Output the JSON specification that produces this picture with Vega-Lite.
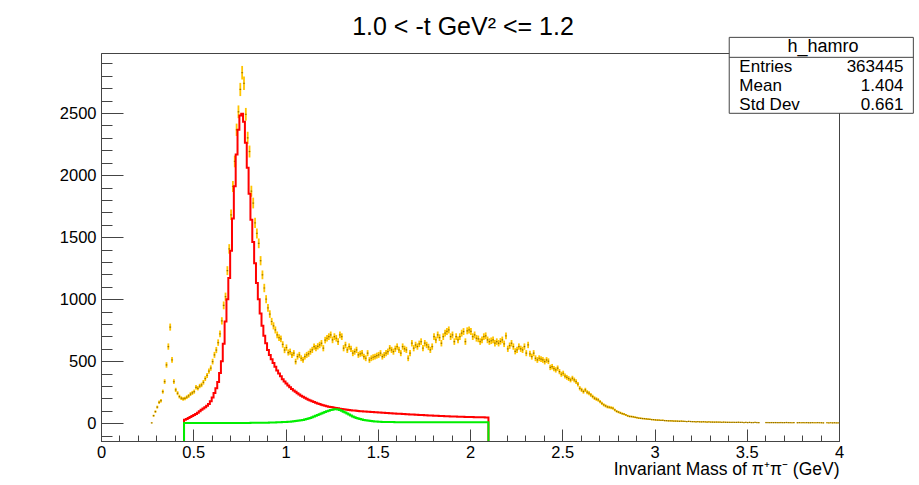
{
  "$schema": "https://vega.github.io/schema/vega-lite/v6.json",
  "width": 738,
  "height": 388,
  "autosize": {"type": "none"},
  "padding": {"left": 101, "top": 53, "right": 80, "bottom": 44},
  "background": "white",
  "title": {"text": "1.0 < -t GeV² <= 1.2", "font": "Liberation Sans", "fontSize": 25, "fontWeight": "normal", "color": "#000", "anchor": "middle", "frame": "group", "offset": -3, "dx": -7},
  "config": {
    "view": {"stroke": "#444", "strokeWidth": 1},
    "axis": {"grid": false, "labelFont": "Liberation Sans", "labelFontSize": 16.5, "labelColor": "#000", "domainColor": "#444", "tickColor": "#444", "titleFont": "Liberation Sans", "titleFontSize": 17.5, "titleFontWeight": "normal", "titleColor": "#000", "labelFlush": false, "labelOverlap": false}
  },
  "resolve": {"axis": {"x": "independent", "y": "independent"}},
  "datasets": {
    "yel": [
      {"x":0.275,"y":3},{"x":0.285,"y":61},{"x":0.295,"y":94},{"x":0.305,"y":130},{"x":0.315,"y":169},{"x":0.325,"y":182},{"x":0.335,"y":255},{"x":0.345,"y":336},{"x":0.355,"y":470},{"x":0.365,"y":618},
      {"x":0.375,"y":775},{"x":0.385,"y":510},{"x":0.395,"y":336},{"x":0.405,"y":269},{"x":0.415,"y":242},{"x":0.425,"y":215},{"x":0.435,"y":202},{"x":0.445,"y":196},{"x":0.455,"y":200},{"x":0.465,"y":210},
      {"x":0.475,"y":220},{"x":0.485,"y":235},{"x":0.495,"y":245},{"x":0.505,"y":255},{"x":0.515,"y":290},{"x":0.525,"y":282},{"x":0.535,"y":300},{"x":0.545,"y":309},{"x":0.555,"y":330},{"x":0.565,"y":360},
      {"x":0.575,"y":385},{"x":0.585,"y":420},{"x":0.595,"y":445},{"x":0.605,"y":497},{"x":0.615,"y":551},{"x":0.625,"y":590},{"x":0.635,"y":650},{"x":0.645,"y":720},{"x":0.655,"y":825},{"x":0.665,"y":950},
      {"x":0.675,"y":1020},{"x":0.685,"y":1230},{"x":0.695,"y":1405},{"x":0.705,"y":1680},{"x":0.715,"y":1908},{"x":0.725,"y":2110},{"x":0.735,"y":2365},{"x":0.745,"y":2510},{"x":0.755,"y":2690},{"x":0.765,"y":2825},
      {"x":0.775,"y":2740},{"x":0.785,"y":2490},{"x":0.795,"y":2300},{"x":0.805,"y":2190},{"x":0.815,"y":1870},{"x":0.825,"y":1775},{"x":0.835,"y":1615},{"x":0.845,"y":1530},{"x":0.855,"y":1450},{"x":0.865,"y":1310},
      {"x":0.875,"y":1196},{"x":0.885,"y":1090},{"x":0.895,"y":1000},{"x":0.905,"y":930},{"x":0.915,"y":880},{"x":0.925,"y":820},{"x":0.935,"y":785},{"x":0.945,"y":752},{"x":0.955,"y":712},{"x":0.965,"y":690},
      {"x":0.975,"y":680},{"x":0.985,"y":635},{"x":0.995,"y":590},{"x":1.005,"y":610},{"x":1.015,"y":570},{"x":1.025,"y":577},{"x":1.035,"y":551},{"x":1.045,"y":565},{"x":1.055,"y":497},{"x":1.065,"y":537},
      {"x":1.075,"y":551},{"x":1.085,"y":524},{"x":1.095,"y":510},{"x":1.105,"y":537},{"x":1.115,"y":551},{"x":1.125,"y":560},{"x":1.135,"y":577},{"x":1.145,"y":591},{"x":1.155,"y":618},{"x":1.165,"y":605},
      {"x":1.175,"y":620},{"x":1.185,"y":631},{"x":1.195,"y":645},{"x":1.205,"y":605},{"x":1.215,"y":670},{"x":1.225,"y":685},{"x":1.235,"y":698},{"x":1.245,"y":712},{"x":1.255,"y":672},{"x":1.265,"y":698},
      {"x":1.275,"y":685},{"x":1.285,"y":658},{"x":1.295,"y":712},{"x":1.305,"y":698},{"x":1.315,"y":605},{"x":1.325,"y":631},{"x":1.335,"y":591},{"x":1.345,"y":618},{"x":1.355,"y":600},{"x":1.365,"y":565},
      {"x":1.375,"y":577},{"x":1.385,"y":591},{"x":1.395,"y":551},{"x":1.405,"y":560},{"x":1.415,"y":565},{"x":1.425,"y":537},{"x":1.435,"y":524},{"x":1.445,"y":565},{"x":1.455,"y":510},{"x":1.465,"y":524},
      {"x":1.475,"y":532},{"x":1.485,"y":537},{"x":1.495,"y":545},{"x":1.505,"y":551},{"x":1.515,"y":565},{"x":1.525,"y":537},{"x":1.535,"y":550},{"x":1.545,"y":565},{"x":1.555,"y":577},{"x":1.565,"y":605},
      {"x":1.575,"y":591},{"x":1.585,"y":577},{"x":1.595,"y":600},{"x":1.605,"y":618},{"x":1.615,"y":591},{"x":1.625,"y":565},{"x":1.635,"y":618},{"x":1.645,"y":600},{"x":1.655,"y":591},{"x":1.665,"y":524},
      {"x":1.675,"y":565},{"x":1.685,"y":645},{"x":1.695,"y":605},{"x":1.705,"y":631},{"x":1.715,"y":618},{"x":1.725,"y":640},{"x":1.735,"y":658},{"x":1.745,"y":605},{"x":1.755,"y":645},{"x":1.765,"y":631},
      {"x":1.775,"y":615},{"x":1.785,"y":591},{"x":1.795,"y":618},{"x":1.805,"y":698},{"x":1.815,"y":672},{"x":1.825,"y":712},{"x":1.835,"y":690},{"x":1.845,"y":645},{"x":1.855,"y":698},{"x":1.865,"y":726},
      {"x":1.875,"y":740},{"x":1.885,"y":752},{"x":1.895,"y":698},{"x":1.905,"y":712},{"x":1.915,"y":658},{"x":1.925,"y":698},{"x":1.935,"y":672},{"x":1.945,"y":698},{"x":1.955,"y":726},{"x":1.965,"y":739},
      {"x":1.975,"y":658},{"x":1.985,"y":745},{"x":1.995,"y":752},{"x":2.005,"y":740},{"x":2.015,"y":698},{"x":2.025,"y":712},{"x":2.035,"y":685},{"x":2.045,"y":680},{"x":2.055,"y":658},{"x":2.065,"y":672},
      {"x":2.075,"y":698},{"x":2.085,"y":705},{"x":2.095,"y":672},{"x":2.105,"y":658},{"x":2.115,"y":665},{"x":2.125,"y":672},{"x":2.135,"y":645},{"x":2.145,"y":658},{"x":2.155,"y":645},{"x":2.165,"y":660},
      {"x":2.175,"y":672},{"x":2.185,"y":640},{"x":2.195,"y":705},{"x":2.205,"y":600},{"x":2.215,"y":625},{"x":2.225,"y":645},{"x":2.235,"y":618},{"x":2.245,"y":580},{"x":2.255,"y":591},{"x":2.265,"y":618},
      {"x":2.275,"y":600},{"x":2.285,"y":591},{"x":2.295,"y":618},{"x":2.305,"y":565},{"x":2.315,"y":631},{"x":2.325,"y":560},{"x":2.335,"y":537},{"x":2.345,"y":565},{"x":2.355,"y":524},{"x":2.365,"y":510},
      {"x":2.375,"y":524},{"x":2.385,"y":517},{"x":2.395,"y":510},{"x":2.405,"y":497},{"x":2.415,"y":510},{"x":2.425,"y":500},{"x":2.435,"y":450},{"x":2.445,"y":456},{"x":2.455,"y":440},{"x":2.465,"y":430},
      {"x":2.475,"y":444},{"x":2.485,"y":416},{"x":2.495,"y":395},{"x":2.505,"y":403},{"x":2.515,"y":380},{"x":2.525,"y":370},{"x":2.535,"y":360},{"x":2.545,"y":349},{"x":2.555,"y":363},{"x":2.565,"y":349},
      {"x":2.575,"y":335},{"x":2.585,"y":315},{"x":2.595,"y":282},{"x":2.605,"y":269},{"x":2.615,"y":255},{"x":2.625,"y":269},{"x":2.635,"y":250},{"x":2.645,"y":242},{"x":2.655,"y":228},{"x":2.665,"y":215},
      {"x":2.675,"y":202},{"x":2.685,"y":195},{"x":2.695,"y":188},{"x":2.705,"y":174},{"x":2.715,"y":161},{"x":2.725,"y":148},{"x":2.735,"y":140},{"x":2.745,"y":132},{"x":2.755,"y":129},{"x":2.765,"y":125},
      {"x":2.775,"y":121},{"x":2.785,"y":107},{"x":2.795,"y":96},{"x":2.805,"y":90},{"x":2.815,"y":84},{"x":2.825,"y":78},{"x":2.835,"y":73},{"x":2.845,"y":67},{"x":2.855,"y":60},{"x":2.865,"y":55},
      {"x":2.875,"y":54},{"x":2.885,"y":52},{"x":2.895,"y":48},{"x":2.905,"y":45},{"x":2.915,"y":41},{"x":2.925,"y":40},{"x":2.935,"y":38},{"x":2.945,"y":37},{"x":2.955,"y":35},{"x":2.965,"y":33},
      {"x":2.975,"y":32},{"x":2.985,"y":30},{"x":2.995,"y":29},{"x":3.005,"y":27},{"x":3.015,"y":26},{"x":3.025,"y":25},{"x":3.035,"y":23},{"x":3.045,"y":24},{"x":3.055,"y":22},{"x":3.065,"y":21},
      {"x":3.075,"y":20},{"x":3.085,"y":20},{"x":3.095,"y":19},{"x":3.105,"y":18},{"x":3.115,"y":18},{"x":3.125,"y":17},{"x":3.135,"y":16},{"x":3.145,"y":17},{"x":3.155,"y":16},{"x":3.165,"y":15},
      {"x":3.175,"y":14},{"x":3.185,"y":15},{"x":3.195,"y":14},{"x":3.205,"y":13},{"x":3.215,"y":13},{"x":3.225,"y":12},{"x":3.235,"y":13},{"x":3.245,"y":12},{"x":3.255,"y":11},{"x":3.265,"y":12},
      {"x":3.275,"y":11},{"x":3.285,"y":10},{"x":3.295,"y":11},{"x":3.305,"y":10},{"x":3.315,"y":10},{"x":3.325,"y":9},{"x":3.335,"y":10},{"x":3.345,"y":9},{"x":3.355,"y":9},{"x":3.365,"y":8},
      {"x":3.375,"y":9},{"x":3.385,"y":8},{"x":3.395,"y":8},{"x":3.405,"y":8},{"x":3.415,"y":7},{"x":3.425,"y":8},{"x":3.435,"y":7},{"x":3.445,"y":7},{"x":3.455,"y":8},{"x":3.465,"y":7},
      {"x":3.475,"y":7},{"x":3.485,"y":6},{"x":3.495,"y":7},{"x":3.505,"y":6},{"x":3.515,"y":7},{"x":3.525,"y":6},{"x":3.535,"y":6},{"x":3.545,"y":7},{"x":3.555,"y":6},{"x":3.565,"y":5},
      {"x":3.605,"y":6},{"x":3.615,"y":6},{"x":3.625,"y":5},{"x":3.635,"y":6},{"x":3.645,"y":5},{"x":3.655,"y":6},{"x":3.665,"y":5},{"x":3.675,"y":5},{"x":3.685,"y":6},{"x":3.695,"y":5},
      {"x":3.705,"y":5},{"x":3.715,"y":6},{"x":3.725,"y":5},{"x":3.735,"y":5},{"x":3.745,"y":4},{"x":3.755,"y":5},{"x":3.775,"y":4},{"x":3.785,"y":5},{"x":3.795,"y":4},{"x":3.805,"y":5},
      {"x":3.815,"y":4},{"x":3.825,"y":5},{"x":3.835,"y":4},{"x":3.845,"y":4},{"x":3.855,"y":5},{"x":3.865,"y":4},{"x":3.875,"y":4},{"x":3.885,"y":5},{"x":3.895,"y":4},{"x":3.905,"y":4},
      {"x":3.915,"y":3},{"x":3.935,"y":4},{"x":3.945,"y":3},{"x":3.955,"y":4},{"x":3.965,"y":3},{"x":3.975,"y":4},{"x":3.985,"y":3},{"x":3.995,"y":3}
    ],
    "red": [
      {"x":0.45,"y":-143},
      {"x":0.45,"y":28},{"x":0.46,"y":35},{"x":0.47,"y":42},{"x":0.48,"y":50},{"x":0.49,"y":58},{"x":0.50,"y":66},{"x":0.51,"y":75},{"x":0.52,"y":85},{"x":0.53,"y":96},{"x":0.54,"y":108},
      {"x":0.55,"y":119},{"x":0.56,"y":130},{"x":0.57,"y":142},{"x":0.58,"y":155},{"x":0.59,"y":178},{"x":0.60,"y":208},{"x":0.61,"y":243},{"x":0.62,"y":283},{"x":0.63,"y":333},{"x":0.64,"y":405},
      {"x":0.65,"y":500},{"x":0.66,"y":640},{"x":0.67,"y":820},{"x":0.68,"y":1000},{"x":0.69,"y":1170},{"x":0.70,"y":1390},{"x":0.71,"y":1650},{"x":0.72,"y":1910},{"x":0.73,"y":2165},{"x":0.74,"y":2365},
      {"x":0.75,"y":2480},{"x":0.76,"y":2494},{"x":0.77,"y":2430},{"x":0.78,"y":2260},{"x":0.79,"y":2060},{"x":0.80,"y":1850},{"x":0.81,"y":1640},{"x":0.82,"y":1460},{"x":0.83,"y":1290},{"x":0.84,"y":1130},
      {"x":0.85,"y":1000},{"x":0.86,"y":885},{"x":0.87,"y":785},{"x":0.88,"y":705},{"x":0.89,"y":645},{"x":0.90,"y":591},{"x":0.91,"y":550},{"x":0.92,"y":515},{"x":0.93,"y":485},{"x":0.94,"y":455},
      {"x":0.95,"y":425},{"x":0.96,"y":400},{"x":0.97,"y":378},{"x":0.98,"y":355},{"x":0.99,"y":336},{"x":1.00,"y":320},{"x":1.01,"y":305},{"x":1.02,"y":290},{"x":1.03,"y":277},{"x":1.04,"y":265},
      {"x":1.05,"y":253},{"x":1.06,"y":242},{"x":1.07,"y":232},{"x":1.08,"y":222},{"x":1.09,"y":213},{"x":1.10,"y":205},{"x":1.11,"y":197},{"x":1.12,"y":190},{"x":1.13,"y":183},{"x":1.14,"y":177},
      {"x":1.15,"y":171},{"x":1.16,"y":165},{"x":1.17,"y":160},{"x":1.18,"y":155},{"x":1.19,"y":150},{"x":1.20,"y":146},{"x":1.21,"y":142},{"x":1.22,"y":138},{"x":1.23,"y":134},{"x":1.24,"y":131},
      {"x":1.25,"y":128},{"x":1.26,"y":125},{"x":1.27,"y":122},{"x":1.28,"y":120},{"x":1.29,"y":117},{"x":1.30,"y":115},{"x":1.31,"y":113},{"x":1.32,"y":111},{"x":1.33,"y":109},{"x":1.34,"y":107},
      {"x":1.35,"y":105},{"x":1.36,"y":103},{"x":1.37,"y":102},{"x":1.38,"y":100},{"x":1.39,"y":99},{"x":1.40,"y":97},{"x":1.41,"y":96},{"x":1.42,"y":95},{"x":1.43,"y":94},{"x":1.44,"y":93},
      {"x":1.45,"y":92},{"x":1.46,"y":91},{"x":1.47,"y":90},{"x":1.48,"y":89},{"x":1.49,"y":88},{"x":1.50,"y":87},{"x":1.51,"y":86},{"x":1.52,"y":85},{"x":1.53,"y":84},{"x":1.54,"y":83},
      {"x":1.55,"y":82},{"x":1.56,"y":81},{"x":1.57,"y":80},{"x":1.58,"y":79},{"x":1.59,"y":78},{"x":1.60,"y":77},{"x":1.61,"y":76},{"x":1.62,"y":76},{"x":1.63,"y":75},{"x":1.64,"y":74},
      {"x":1.65,"y":73},{"x":1.66,"y":72},{"x":1.67,"y":71},{"x":1.68,"y":70},{"x":1.69,"y":70},{"x":1.70,"y":69},{"x":1.71,"y":68},{"x":1.72,"y":67},{"x":1.73,"y":66},{"x":1.74,"y":66},
      {"x":1.75,"y":65},{"x":1.76,"y":64},{"x":1.77,"y":63},{"x":1.78,"y":63},{"x":1.79,"y":62},{"x":1.80,"y":61},{"x":1.81,"y":60},{"x":1.82,"y":60},{"x":1.83,"y":59},{"x":1.84,"y":58},
      {"x":1.85,"y":58},{"x":1.86,"y":57},{"x":1.87,"y":57},{"x":1.88,"y":56},{"x":1.89,"y":55},{"x":1.90,"y":55},{"x":1.91,"y":54},{"x":1.92,"y":54},{"x":1.93,"y":53},{"x":1.94,"y":53},
      {"x":1.95,"y":52},{"x":1.96,"y":52},{"x":1.97,"y":51},{"x":1.98,"y":51},{"x":1.99,"y":51},{"x":2.00,"y":50},{"x":2.01,"y":50},{"x":2.02,"y":49},{"x":2.03,"y":49},{"x":2.04,"y":49},
      {"x":2.05,"y":48},{"x":2.06,"y":48},{"x":2.07,"y":48},{"x":2.08,"y":47},{"x":2.09,"y":47},{"x":2.10,"y":47},
      {"x":2.10,"y":-143}
    ],
    "grn": [
      {"x":0.45,"y":-143},
      {"x":0.45,"y":2},{"x":0.55,"y":2},{"x":0.65,"y":3},{"x":0.81,"y":4},{"x":0.89,"y":5},{"x":0.91,"y":6},{"x":0.93,"y":7},{"x":0.95,"y":8},{"x":0.97,"y":9},{"x":0.98,"y":10},
      {"x":1.00,"y":11},{"x":1.01,"y":12},{"x":1.02,"y":13},{"x":1.03,"y":15},{"x":1.04,"y":16},{"x":1.05,"y":18},{"x":1.06,"y":20},{"x":1.07,"y":22},{"x":1.08,"y":24},{"x":1.09,"y":27},
      {"x":1.10,"y":30},{"x":1.11,"y":34},{"x":1.12,"y":38},{"x":1.13,"y":43},{"x":1.14,"y":48},{"x":1.15,"y":54},{"x":1.16,"y":60},{"x":1.17,"y":66},{"x":1.18,"y":72},{"x":1.19,"y":78},
      {"x":1.20,"y":84},{"x":1.21,"y":90},{"x":1.22,"y":96},{"x":1.23,"y":101},{"x":1.24,"y":106},{"x":1.25,"y":109},{"x":1.26,"y":112},{"x":1.27,"y":113},{"x":1.28,"y":111},{"x":1.29,"y":106},
      {"x":1.30,"y":100},{"x":1.31,"y":93},{"x":1.32,"y":86},{"x":1.33,"y":78},{"x":1.34,"y":70},{"x":1.35,"y":62},{"x":1.36,"y":55},{"x":1.37,"y":49},{"x":1.38,"y":43},{"x":1.39,"y":38},
      {"x":1.40,"y":34},{"x":1.41,"y":30},{"x":1.42,"y":27},{"x":1.43,"y":24},{"x":1.44,"y":22},{"x":1.45,"y":20},{"x":1.46,"y":18},{"x":1.47,"y":16},{"x":1.48,"y":15},{"x":1.49,"y":14},
      {"x":1.50,"y":13},{"x":1.51,"y":12},{"x":1.52,"y":11},{"x":1.54,"y":10},{"x":1.59,"y":9},{"x":1.70,"y":8},{"x":2.10,"y":8},
      {"x":2.10,"y":-143}
    ],
    "one": [{}]
  },
  "layer": [
    {
      "data": {"name": "yel"},
      "mark": {"type": "tick", "orient": "vertical", "thickness": 1.8, "color": "#ffc400", "opacity": 1},
      "encoding": {
        "x": {"field": "x", "type": "quantitative", "scale": {"domain": [0, 4], "nice": false, "zero": false},
              "axis": {"orient": "bottom", "values": [0, 0.5, 1, 1.5, 2, 2.5, 3, 3.5, 4], "format": "~g", "tickSize": -12, "labelPadding": 15, "title": "Invariant Mass of π⁺π⁻ (GeV)", "titleAnchor": "end", "titlePadding": 0}},
        "y": {"field": "y", "type": "quantitative", "scale": {"domain": [-143, 2984], "nice": false, "zero": false},
              "axis": {"orient": "left", "values": [0, 500, 1000, 1500, 2000, 2500], "format": "d", "tickSize": -22, "labelPadding": 27, "title": null}},
        "size": {"field": "y", "type": "quantitative", "scale": {"type": "sqrt", "domain": [0, 2800], "range": [0, 13.5]}, "legend": null}
      }
    },
    {
      "data": {"name": "yel"},
      "mark": {"type": "tick", "orient": "horizontal", "size": 2.2, "thickness": 1.2, "color": "#ffc400"},
      "encoding": {
        "x": {"field": "x", "type": "quantitative",
              "axis": {"orient": "bottom", "values": [0,0.1,0.2,0.3,0.4,0.5,0.6,0.7,0.8,0.9,1,1.1,1.2,1.3,1.4,1.5,1.6,1.7,1.8,1.9,2,2.1,2.2,2.3,2.4,2.5,2.6,2.7,2.8,2.9,3,3.1,3.2,3.3,3.4,3.5,3.6,3.7,3.8,3.9,4], "tickSize": -6, "labels": false, "domain": false, "title": null}},
        "y": {"field": "y", "type": "quantitative",
              "axis": {"orient": "left", "values": [-100,0,100,200,300,400,500,600,700,800,900,1000,1100,1200,1300,1400,1500,1600,1700,1800,1900,2000,2100,2200,2300,2400,2500,2600,2700,2800,2900], "tickSize": -11, "labels": false, "domain": false, "title": null}}
      }
    },
    {
      "data": {"name": "yel"},
      "mark": {"type": "square", "size": 1.5, "color": "#6e5400", "opacity": 0.8},
      "encoding": {
        "x": {"field": "x", "type": "quantitative", "axis": null},
        "y": {"field": "y", "type": "quantitative", "axis": null}
      }
    },
    {
      "data": {"name": "red"},
      "mark": {"type": "line", "interpolate": "step-after", "color": "#ff0000", "strokeWidth": 2},
      "encoding": {
        "x": {"field": "x", "type": "quantitative", "axis": null},
        "y": {"field": "y", "type": "quantitative", "axis": null},
        "order": {"value": null}
      }
    },
    {
      "data": {"name": "grn"},
      "mark": {"type": "line", "interpolate": "step-after", "color": "#00ee00", "strokeWidth": 2},
      "encoding": {
        "x": {"field": "x", "type": "quantitative", "axis": null},
        "y": {"field": "y", "type": "quantitative", "axis": null},
        "order": {"value": null}
      }
    },
    {
      "data": {"name": "one"},
      "mark": {"type": "rect", "fill": "white", "stroke": "#444", "strokeWidth": 1},
      "encoding": {
        "x": {"datum": 3.405, "type": "quantitative", "axis": null},
        "x2": {"datum": 4.403},
        "y": {"datum": 2498, "type": "quantitative", "axis": null},
        "y2": {"datum": 3110}
      }
    },
    {
      "data": {"name": "one"},
      "mark": {"type": "rule", "stroke": "#444", "strokeWidth": 1},
      "encoding": {
        "x": {"datum": 3.405, "type": "quantitative", "axis": null},
        "x2": {"datum": 4.403},
        "y": {"datum": 2949, "type": "quantitative", "axis": null}
      }
    },
    {
      "data": {"name": "one"},
      "mark": {"type": "text", "text": "h_hamro", "font": "Liberation Sans", "fontSize": 18, "align": "center", "baseline": "middle", "color": "#000"},
      "encoding": {
        "x": {"datum": 3.913, "type": "quantitative", "axis": null},
        "y": {"datum": 3030, "type": "quantitative", "axis": null}
      }
    },
    {
      "data": {"name": "one"},
      "mark": {"type": "text", "text": "Entries", "font": "Liberation Sans", "fontSize": 17, "align": "left", "baseline": "alphabetic", "color": "#000"},
      "encoding": {
        "x": {"datum": 3.46, "type": "quantitative", "axis": null},
        "y": {"datum": 2830, "type": "quantitative", "axis": null}
      }
    },
    {
      "data": {"name": "one"},
      "mark": {"type": "text", "text": "Mean", "font": "Liberation Sans", "fontSize": 17, "align": "left", "baseline": "alphabetic", "color": "#000"},
      "encoding": {
        "x": {"datum": 3.46, "type": "quantitative", "axis": null},
        "y": {"datum": 2678, "type": "quantitative", "axis": null}
      }
    },
    {
      "data": {"name": "one"},
      "mark": {"type": "text", "text": "Std Dev", "font": "Liberation Sans", "fontSize": 17, "align": "left", "baseline": "alphabetic", "color": "#000"},
      "encoding": {
        "x": {"datum": 3.46, "type": "quantitative", "axis": null},
        "y": {"datum": 2526, "type": "quantitative", "axis": null}
      }
    },
    {
      "data": {"name": "one"},
      "mark": {"type": "text", "text": "363445", "font": "Liberation Sans", "fontSize": 17, "align": "right", "baseline": "alphabetic", "color": "#000"},
      "encoding": {
        "x": {"datum": 4.349, "type": "quantitative", "axis": null},
        "y": {"datum": 2830, "type": "quantitative", "axis": null}
      }
    },
    {
      "data": {"name": "one"},
      "mark": {"type": "text", "text": "1.404", "font": "Liberation Sans", "fontSize": 17, "align": "right", "baseline": "alphabetic", "color": "#000"},
      "encoding": {
        "x": {"datum": 4.349, "type": "quantitative", "axis": null},
        "y": {"datum": 2678, "type": "quantitative", "axis": null}
      }
    },
    {
      "data": {"name": "one"},
      "mark": {"type": "text", "text": "0.661", "font": "Liberation Sans", "fontSize": 17, "align": "right", "baseline": "alphabetic", "color": "#000"},
      "encoding": {
        "x": {"datum": 4.349, "type": "quantitative", "axis": null},
        "y": {"datum": 2526, "type": "quantitative", "axis": null}
      }
    }
  ]
}
